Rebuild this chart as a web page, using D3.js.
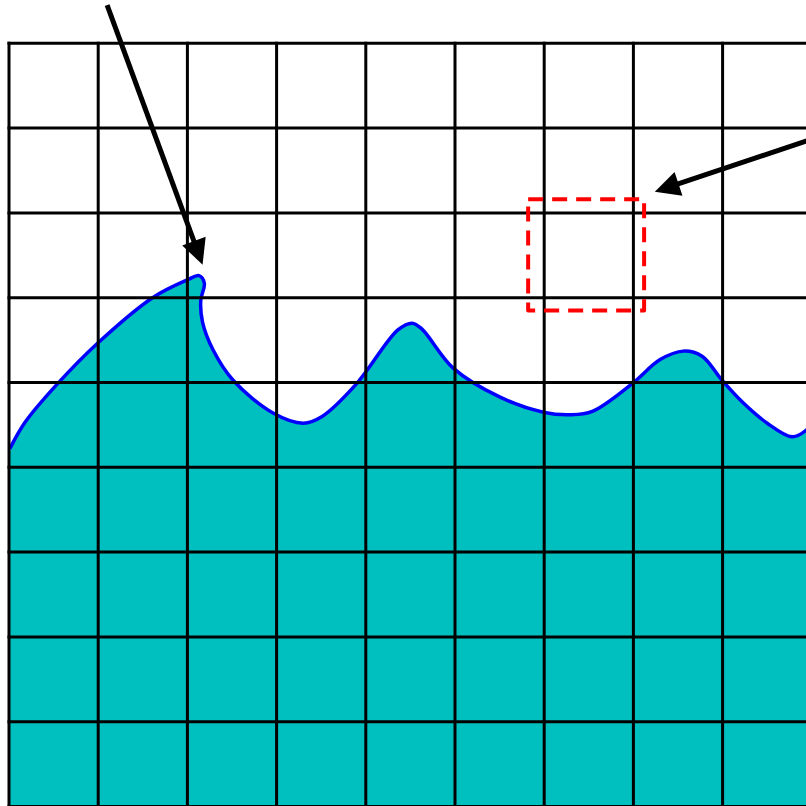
<!DOCTYPE html>
<html>
<head>
<meta charset="utf-8">
<script src="https://cdn.jsdelivr.net/npm/d3@7"></script>
<style>
  html, body { margin: 0; padding: 0; background: #fff; }
  svg { display: block; }
</style>
</head>
<body>
<script>
// ---- data (grid units: x = columns from left, y = rows from bottom) ----
const gridCols = [0, 1, 2, 3, 4, 5, 6, 7, 8, 9, 10];
const gridRows = [0, 1, 2, 3, 4, 5, 6, 7, 8, 9];
const waveX = [0.01, 0.18, 0.54, 0.99, 1.61, 2.00, 2.13, 2.19, 2.15, 2.17, 2.29, 2.51, 2.96, 3.30, 3.51, 3.90, 4.36, 4.52, 4.63, 4.98, 5.50, 5.99, 6.29, 6.54, 6.99, 7.30, 7.56, 7.77, 7.99, 8.23, 8.50, 8.78, 8.94, 9.04];
const waveY = [4.22, 4.53, 4.98, 5.46, 6.00, 6.21, 6.26, 6.17, 5.97, 5.71, 5.38, 5.03, 4.64, 4.52, 4.60, 4.99, 5.62, 5.70, 5.63, 5.17, 4.83, 4.65, 4.62, 4.66, 4.99, 5.27, 5.37, 5.31, 5.03, 4.76, 4.52, 4.36, 4.44, 4.58];
const fillBottom = -0.3;
const arrowStarts = [[1.10, 9.45], [9.09, 7.90]];
const arrowEnds = [[2.17, 6.39], [7.24, 7.25]];
const boxX = [5.82, 7.12];
const boxY = [5.85, 7.16];

// ---- drawing ----
const W = 806, H = 806;
const svg = d3.select("body").append("svg").attr("width", W).attr("height", H);

const x = d3.scaleLinear().domain([0, 10]).range([9, 901]);
const y = d3.scaleLinear().domain([0, 9]).range([806.5, 43.3]);

const wave = waveX.map((v, i) => [v, waveY[i]]);
const line = d3.line().x(d => x(d[0])).y(d => y(d[1])).curve(d3.curveCatmullRom.alpha(0.5));

// fill
const first = wave[0], last = wave[wave.length - 1];
svg.append("path")
  .attr("d", line(wave) + "L" + x(last[0]) + "," + y(fillBottom) + "L" + x(first[0]) + "," + y(fillBottom) + "Z")
  .attr("fill", "#00bfbf")
  .attr("stroke", "none");

// outline
svg.append("path")
  .attr("d", line(wave))
  .attr("fill", "none")
  .attr("stroke", "#0000ff")
  .attr("stroke-width", 3.5)
  .attr("stroke-linejoin", "round");

// grid
const g = svg.append("g").attr("stroke", "#000").attr("stroke-width", 3).attr("stroke-linecap", "square");
g.selectAll("line.v").data(gridCols).join("line")
  .attr("class", "v")
  .attr("x1", d => x(d)).attr("x2", d => x(d))
  .attr("y1", y(9)).attr("y2", y(fillBottom));
g.selectAll("line.h").data(gridRows).join("line")
  .attr("class", "h")
  .attr("x1", x(0)).attr("x2", x(10))
  .attr("y1", d => y(d)).attr("y2", d => y(d));

// red dashed box
svg.append("rect")
  .attr("x", x(boxX[0])).attr("y", y(boxY[1]))
  .attr("width", x(boxX[1]) - x(boxX[0]))
  .attr("height", y(boxY[0]) - y(boxY[1]))
  .attr("fill", "none")
  .attr("stroke", "#ff0000")
  .attr("stroke-width", 4)
  .attr("stroke-dasharray", "15,9")
  .attr("stroke-linejoin", "round");

// arrows
const headLen = 25, headHalf = 12.5;
arrowStarts.forEach((s, i) => {
  const e = arrowEnds[i];
  const sx = x(s[0]), sy = y(s[1]), ex = x(e[0]), ey = y(e[1]);
  const dx = ex - sx, dy = ey - sy, L = Math.hypot(dx, dy);
  const ux = dx / L, uy = dy / L;
  const bx = ex - ux * headLen, by = ey - uy * headLen;
  svg.append("line")
    .attr("x1", sx).attr("y1", sy)
    .attr("x2", bx + ux * 2).attr("y2", by + uy * 2)
    .attr("stroke", "#000").attr("stroke-width", 5);
  svg.append("path")
    .attr("d", `M${ex},${ey}L${bx - uy * headHalf},${by + ux * headHalf}L${bx + uy * headHalf},${by - ux * headHalf}Z`)
    .attr("fill", "#000");
});
</script>
</body>
</html>
